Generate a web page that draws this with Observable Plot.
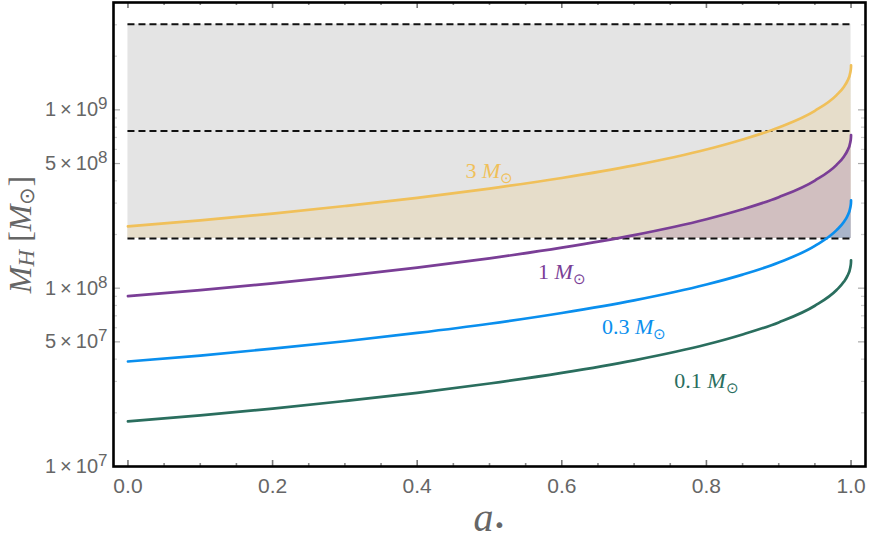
<!DOCTYPE html>
<html>
<head>
<meta charset="utf-8">
<script src="https://cdn.jsdelivr.net/npm/d3@7"></script>
<script src="https://cdn.jsdelivr.net/npm/@observablehq/plot@0.6"></script>
<style>
  body { margin: 0; background: white; }
  #chart svg { display: block; }
</style>
</head>
<body>
<div id="chart"></div>
<script>
// ---- data ----
const spin = [0, 0.1, 0.2, 0.3, 0.4, 0.5, 0.6, 0.7, 0.8, 0.85, 0.9, 0.95, 0.98, 0.99, 0.995, 0.999, 0.9999, 1];
const mh3  = [222, 240, 262, 289, 321, 362, 415, 488, 599, 682, 797, 988, 1210, 1345, 1454, 1621, 1723, 1776]; // 1e6 Msun
const mh1  = [90.2, 97.5, 106.4, 117.3, 130.3, 147.0, 168.7, 198.4, 243.5, 276.9, 323.8, 401.4, 491.6, 546.6, 590.8, 658.5, 700, 721.6];
const mh03 = [38.8, 41.9, 45.8, 50.4, 56.1, 63.2, 72.6, 85.4, 104.8, 119.1, 139.3, 172.7, 211.5, 235.1, 254.1, 283.2, 301.1, 310.4];
const mh01 = [17.9, 19.35, 21.1, 23.3, 25.9, 29.2, 33.5, 39.4, 48.3, 55.0, 64.3, 79.7, 97.6, 108.5, 117.2, 130.7, 138.9, 143.2];
const unit = 1e6;

const curveNames  = ["3", "1", "0.3", "0.1"];
const curveColors = ["#F0C05A", "#7A3E96", "#0A8FEE", "#2A6E5E"];
const fillColors  = ["#E6DDCA", "#D1BFC0", "#A9B5CA", null];
const labelA = [0.50, 0.60, 0.70, 0.80];
const labelM = [4.57e8, 1.23e8, 6.04e7, 3.03e7];

const levels = [1.9e8, 7.6e8, 3.02e9];   // dashed lines; band between first and last

const xMajor = [0, 0.2, 0.4, 0.6, 0.8, 1.0];
const xMinor = [0.05, 0.1, 0.15, 0.25, 0.3, 0.35, 0.45, 0.5, 0.55, 0.65, 0.7, 0.75, 0.85, 0.9, 0.95];
const yMajor = [1e7, 5e7, 1e8, 5e8, 1e9];
const yMantissa = ["1", "5", "1", "5", "1"];
const yExponent = ["7", "7", "8", "8", "9"];
const yMinor = [2e7,3e7,4e7,6e7,7e7,8e7,9e7,2e8,3e8,4e8,6e8,7e8,8e8,9e8,2e9,3e9,4e9];

// ---- tables ----
const series = [mh3, mh1, mh03, mh01].map((arr, k) =>
  spin.map((a, i) => ({a, m: arr[i] * unit, k})));
const labels = curveNames.map((n, k) => ({name: n, a: labelA[k], m: labelM[k], k}));
const yTickRows = yMajor.map((v, i) => ({v, man: yMantissa[i], exp: yExponent[i]}));

const curve = "monotone-x";
const xDom = [-0.02, 1.02];
const yDom = [1e7, 4e9];
const W = 872, H = 540, mL = 113, mR = 7, mT = 2, mB = 74;
const fw = W - mL - mR, fh = H - mT - mB;

const marks = [];
// gray band
marks.push(Plot.rect([levels], {x1: spin[0], x2: spin[spin.length - 1], y1: d => d[0], y2: d => d[2], fill: "#E4E4E4"}));
// filled areas between each curve and the lower level
series.forEach((s, k) => {
  if (fillColors[k]) marks.push(Plot.areaY(s, {x: "a", y1: levels[0], y2: "m", curve, fill: fillColors[k]}));
});
// white cover below the lower level
marks.push(Plot.rect([0], {x1: xDom[0], x2: xDom[1], y1: yDom[0], y2: levels[0], fill: "white"}));
// dashed levels
marks.push(Plot.ruleY(levels, {x1: spin[0], x2: spin[spin.length - 1], stroke: "#111", strokeWidth: 2, strokeDasharray: "7,4"}));
// curves
series.forEach((s, k) => {
  marks.push(Plot.line(s, {x: "a", y: "m", curve, stroke: curveColors[k], strokeWidth: 2.7}));
});
// curve labels
marks.push(Plot.text(labels, {x: "a", y: "m", text: d => d.name + " M\u2299", fill: d => curveColors[d.k],
  fontFamily: "Liberation Serif", fontSize: 22, className: "curve-label"}));
// inward ticks
marks.push(Plot.tickY(yMajor, {y: d => d, insetRight: fw - 7, stroke: "#aaa", strokeWidth: 1.2}));
marks.push(Plot.tickY(yMinor, {y: d => d, insetRight: fw - 4, stroke: "#ccc", strokeWidth: 1.2}));
marks.push(Plot.tickY(yMajor, {y: d => d, insetLeft: fw - 7, stroke: "#aaa", strokeWidth: 1.2}));
marks.push(Plot.tickY(yMinor, {y: d => d, insetLeft: fw - 4, stroke: "#ccc", strokeWidth: 1.2}));
marks.push(Plot.tickX(xMajor, {x: d => d, insetTop: fh - 6, stroke: "#777", strokeWidth: 1.6}));
marks.push(Plot.tickX(xMinor, {x: d => d, insetTop: fh - 3, stroke: "#888", strokeWidth: 1.6}));
marks.push(Plot.tickX(xMajor, {x: d => d, insetBottom: fh - 6, stroke: "#777", strokeWidth: 1.6}));
marks.push(Plot.tickX(xMinor, {x: d => d, insetBottom: fh - 3, stroke: "#888", strokeWidth: 1.6}));
// tick labels
marks.push(Plot.text(yTickRows, {y: "v", frameAnchor: "left", dx: -6, textAnchor: "end", lineAnchor: "middle",
  text: d => d.man + "\u2009\u00d7\u200910^" + d.exp, fontFamily: "Liberation Sans", fontSize: 20, fill: "#666", className: "ytick"}));
marks.push(Plot.text(xMajor, {x: d => d, frameAnchor: "bottom", dy: 20, textAnchor: "middle", lineAnchor: "middle",
  text: d => d.toFixed(1), fontFamily: "Liberation Sans", fontSize: 21, fill: "#666"}));
// axis titles
marks.push(Plot.text(["yl"], {frameAnchor: "left", dx: -93, rotate: -90, textAnchor: "middle", lineAnchor: "middle",
  text: d => d, fontFamily: "Liberation Serif", fontSize: 32, fill: "#666", className: "y-title"}));
marks.push(Plot.text(["xl"], {frameAnchor: "bottom", dy: 52, textAnchor: "middle", lineAnchor: "middle",
  text: d => d, fontFamily: "Liberation Serif", fontSize: 40, fill: "#666", className: "x-title"}));
// frame
marks.push(Plot.frame({stroke: "#000", strokeWidth: 2.6}));

const chart = Plot.plot({
  width: W, height: H,
  marginLeft: mL, marginRight: mR, marginTop: mT, marginBottom: mB,
  style: {fontFamily: "Liberation Sans", fontSize: "17px", background: "white"},
  x: {domain: xDom, axis: null},
  y: {type: "log", domain: yDom, axis: null},
  marks
});
document.getElementById("chart").appendChild(chart);

// ---- rich text (italic M, sub/superscripts) ----
const NS = "http://www.w3.org/2000/svg";
function rich(el, parts) {
  while (el.firstChild) el.removeChild(el.firstChild);
  let shifted = 0;
  for (const p of parts) {
    const ts = document.createElementNS(NS, "tspan");
    ts.textContent = p.t;
    if (p.i) ts.setAttribute("font-style", "italic");
    const want = p.sh ? p.sh : 0;
    if (want !== shifted) { ts.setAttribute("dy", (want - shifted) + "px"); shifted = want; }
    if (p.fs) ts.setAttribute("font-size", p.fs);
    if (p.ff) ts.setAttribute("font-family", p.ff);
    el.appendChild(ts);
  }
}
chart.querySelectorAll(".curve-label text").forEach(el => {
  const s = el.textContent.replace(" M\u2299", "");
  rich(el, [{t: s + " "}, {t: "M", i: true}, {t: "\u2299", sh: 5, fs: "15px"}]);
});
chart.querySelectorAll(".ytick text").forEach(el => {
  const [base, exp] = el.textContent.split("^");
  rich(el, [{t: base}, {t: exp, sh: -7, fs: "17px"}]);
});
chart.querySelectorAll(".y-title text").forEach(el => {
  rich(el, [{t: "M", i: true}, {t: "H", i: true, sh: 3, fs: "23px"}, {t: " [", sh: 0}, {t: "M", i: true}, {t: "\u2299", sh: 3, fs: "21px"}, {t: "]", sh: 0}]);
});
chart.querySelectorAll(".x-title text").forEach(el => {
  rich(el, [{t: "a", i: true}, {t: "\u2022", sh: 1, fs: "20px", ff: "DejaVu Sans"}]);
});
</script>
</body>
</html>
